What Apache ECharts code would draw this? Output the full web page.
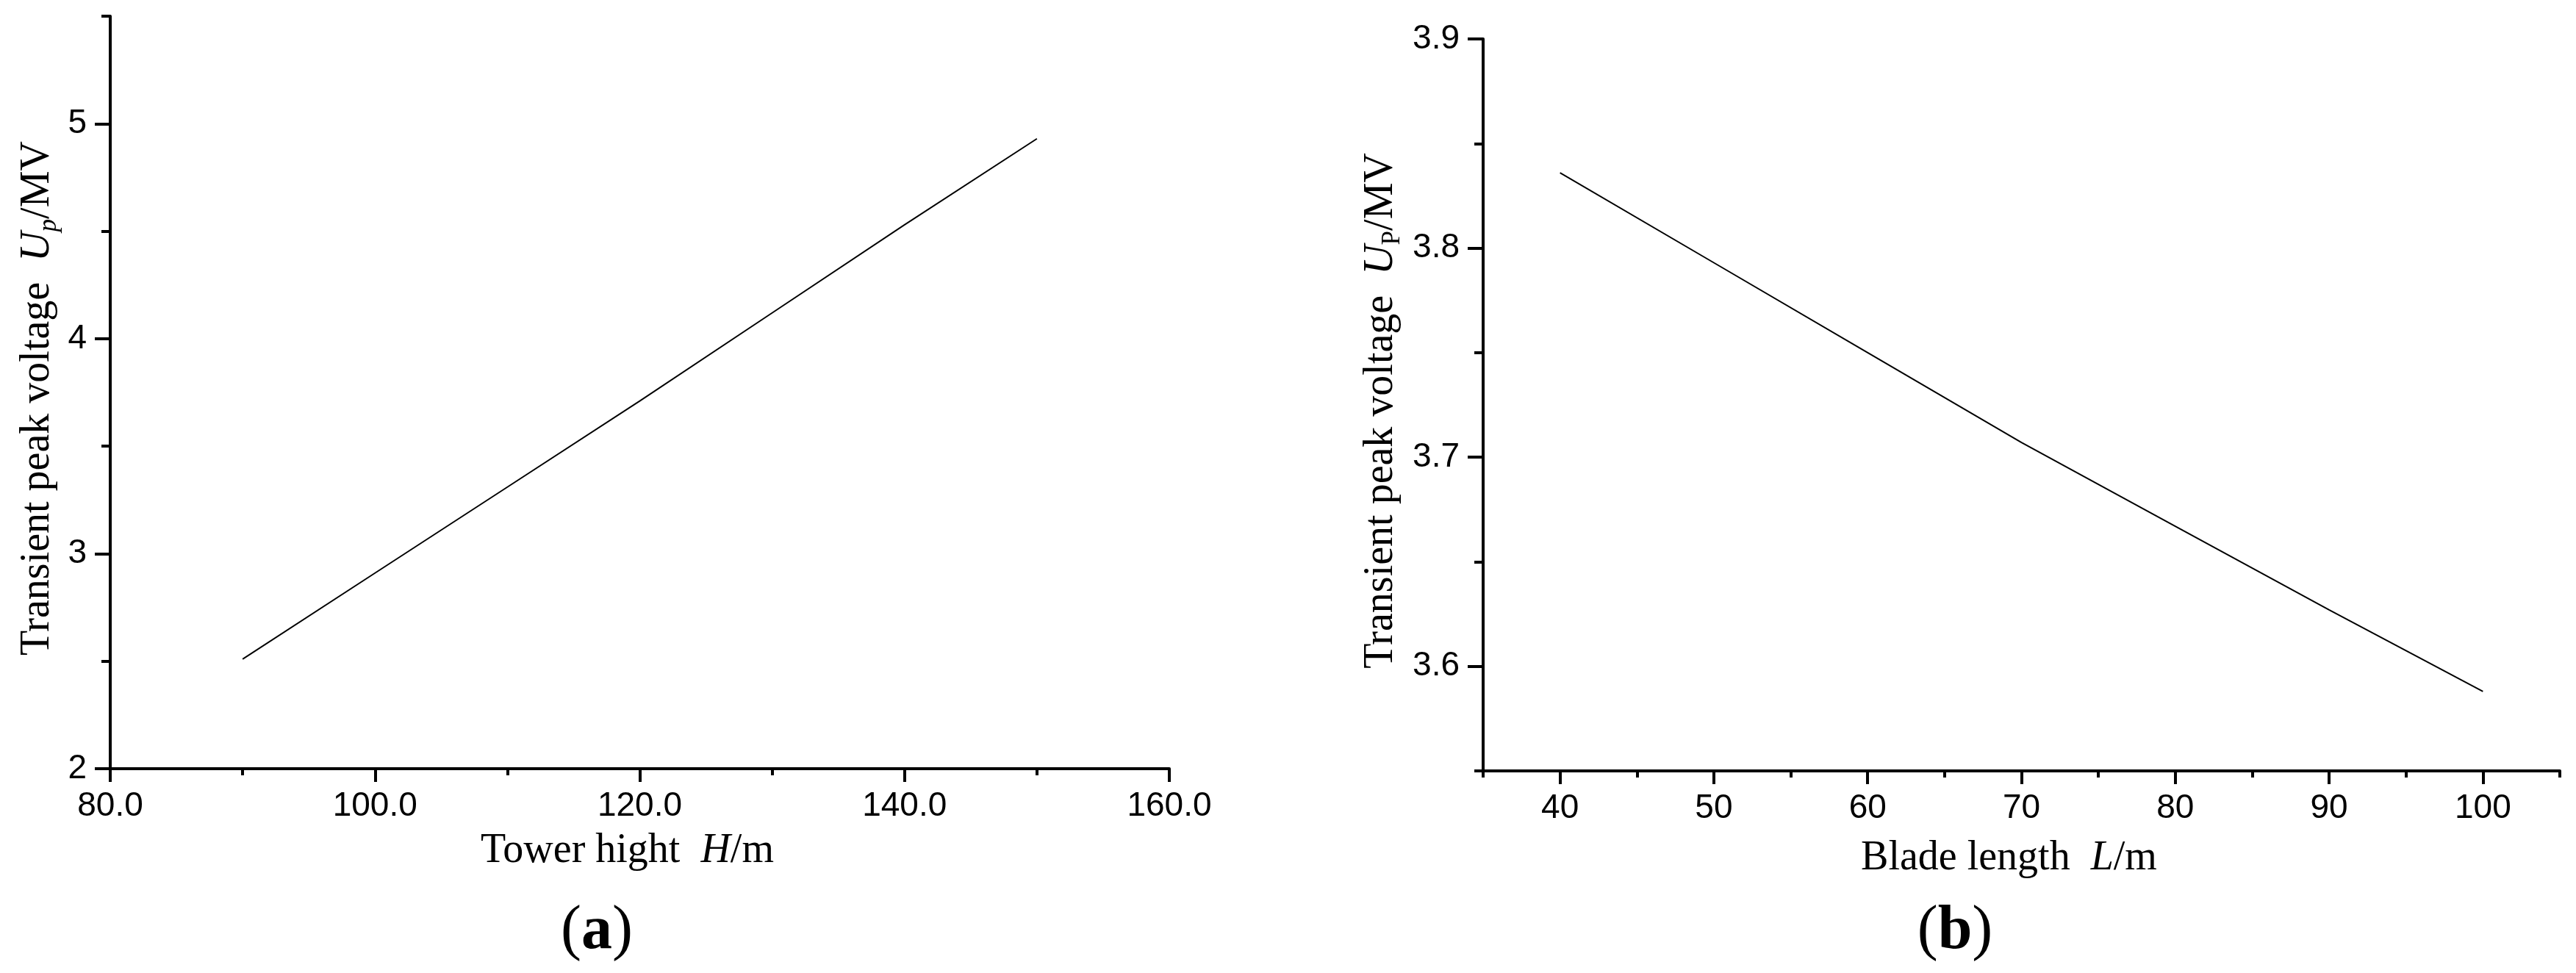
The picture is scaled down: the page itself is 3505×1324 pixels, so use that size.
<!DOCTYPE html>
<html><head><meta charset="utf-8">
<script src="https://cdn.jsdelivr.net/npm/echarts@6/dist/echarts.min.js"></script>
<style>html,body{margin:0;padding:0;background:#fff}#c{width:3505px;height:1324px}</style>
</head><body><div id="c"></div>
<script>
// ---- data ----
const towerHeight = [90, 100, 110, 120, 130, 140, 150];
const peakVoltageA = [2.51, 2.91, 3.31, 3.71, 4.12, 4.53, 4.93];
const bladeLength = [40, 50, 60, 70, 80, 90, 100];
const peakVoltageB = [3.836, 3.793, 3.750, 3.707, 3.667, 3.627, 3.588];
// ---- ticks ----
const xMajorA = [80, 100, 120, 140, 160];
const xMinorA = [90, 110, 130, 150];
const yMajorA = [2, 3, 4, 5];
const yMinorA = [2.5, 3.5, 4.5, 5.5];
const xMajorB = [40, 50, 60, 70, 80, 90, 100];
const xMinorB = [35, 45, 55, 65, 75, 85, 95, 105];
const yMajorB = [3.6, 3.7, 3.8, 3.9];
const yMinorB = [3.55, 3.65, 3.75, 3.85];

const SANS = 'Liberation Sans';
const SERIF = 'Liberation Serif';
function nameStyle(pad) {
  return {
    fontFamily: SERIF, fontSize: 56, color: '#000', lineHeight: 66, padding: pad,
    rich: {
      i: { fontFamily: SERIF, fontSize: 56, fontStyle: 'italic', color: '#000', lineHeight: 66 },
      si: { fontFamily: SERIF, fontSize: 35, fontStyle: 'italic', color: '#000', lineHeight: 35, verticalAlign: 'bottom' },
      su: { fontFamily: SERIF, fontSize: 35, color: '#000', lineHeight: 35, verticalAlign: 'bottom' }
    }
  };
}

function mainAxis(grid, min, max, major, fmt, tickLen, name, nameGap, isY) {
  return {
    type: 'value', gridIndex: grid, min: min, max: max,
    name: name, nameLocation: 'middle', nameGap: nameGap,
    nameTextStyle: nameStyle(isY ? [0, 16, 0, 0] : [0, 34, 0, 0]),
    axisLine: { show: true, onZero: false, lineStyle: { color: '#000', width: 4 } },
    axisTick: { show: true, length: tickLen, customValues: major, lineStyle: { color: '#000', width: 4 } },
    axisLabel: { show: true, customValues: major, formatter: fmt, fontFamily: SANS, fontSize: 46, color: '#000', margin: isY ? 32 : 28 },
    splitLine: { show: false }
  };
}
function minorAxis(grid, min, max, minor, tickLen, pos) {
  return {
    type: 'value', gridIndex: grid, min: min, max: max, position: pos, offset: 0,
    axisLine: { show: false, onZero: false },
    axisTick: { show: true, length: tickLen, customValues: minor, lineStyle: { color: '#000', width: 4 } },
    axisLabel: { show: false },
    splitLine: { show: false }
  };
}

const chart = echarts.init(document.getElementById('c'));
chart.setOption({
  backgroundColor: '#fff',
  animation: false,
  grid: [
    { left: 150, top: 22, width: 1441, height: 1024 },
    { left: 2018, top: 53, width: 1465, height: 996 }
  ],
  xAxis: [
    mainAxis(0, 80, 160, xMajorA, v => v.toFixed(1), 18, 'Tower hight  {i|H}/m', 76, false),
    minorAxis(0, 80, 160, xMinorA, 9, 'bottom'),
    mainAxis(1, 35, 105, xMajorB, v => String(v), 18, 'Blade length  {i|L}/m', 86, false),
    minorAxis(1, 35, 105, xMinorB, 9, 'bottom')
  ],
  yAxis: [
    mainAxis(0, 2, 5.5, yMajorA, v => String(v), 21, 'Transient peak voltage  {i|U}{si|p}/MV', 66, true),
    minorAxis(0, 2, 5.5, yMinorA, 12, 'left'),
    mainAxis(1, 3.55, 3.9, yMajorB, v => v.toFixed(1), 21, 'Transient peak voltage  {i|U}{su|P}/MV', 106, true),
    minorAxis(1, 3.55, 3.9, yMinorB, 12, 'left')
  ],
  series: [
    {
      type: 'line', xAxisIndex: 0, yAxisIndex: 0, showSymbol: false, symbol: 'none',
      data: towerHeight.map((h, i) => [h, peakVoltageA[i]]),
      lineStyle: { color: '#000', width: 2 }
    },
    {
      type: 'line', xAxisIndex: 2, yAxisIndex: 2, showSymbol: false, symbol: 'none',
      data: bladeLength.map((l, i) => [l, peakVoltageB[i]]),
      lineStyle: { color: '#000', width: 2 }
    }
  ],
  graphic: [
    { type: 'text', x: 812, y: 1268, style: { text: '{p|(}{b|a}{p|)}', textAlign: 'center', textVerticalAlign: 'middle',
      rich: { p: { fontFamily: SERIF, fontSize: 84, fill: '#000' }, b: { fontFamily: SERIF, fontSize: 84, fontWeight: 'bold', fill: '#000' } } } },
    { type: 'text', x: 2660, y: 1268, style: { text: '{p|(}{b|b}{p|)}', textAlign: 'center', textVerticalAlign: 'middle',
      rich: { p: { fontFamily: SERIF, fontSize: 84, fill: '#000' }, b: { fontFamily: SERIF, fontSize: 84, fontWeight: 'bold', fill: '#000' } } } }
  ]
});
</script>
</body></html>
